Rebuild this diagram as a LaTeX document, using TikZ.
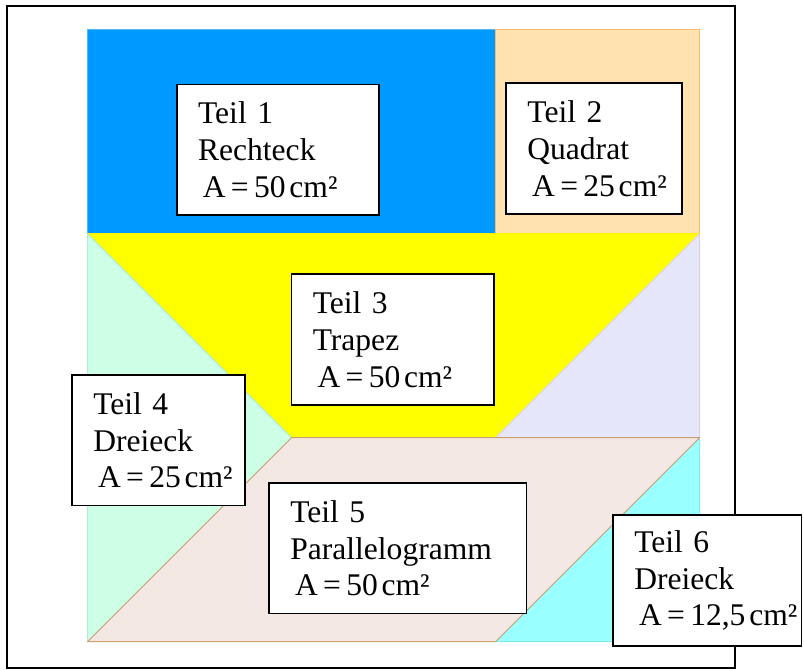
\documentclass[tikz,border=0pt]{standalone}
\usepackage{fontspec}
\setmainfont{Liberation Serif}
\usetikzlibrary{positioning}
\definecolor{blau}{HTML}{0099FF}
\definecolor{pfirsich}{HTML}{FFE2B0}
\definecolor{gelb}{HTML}{FFFF00}
\definecolor{mint}{HTML}{CCFFE6}
\definecolor{lavendel}{HTML}{E6E6FA}
\definecolor{rosa}{HTML}{F4E8E4}
\definecolor{tuerkis}{HTML}{99FFFF}
\newcommand{\flaeche}[1]{\mbox{\hspace{.15em}A\hspace{.17em}=\hspace{.17em}#1\hspace{.12em}cm²}}

\begin{document}
\begin{tikzpicture}[scale=1,
	teil/.style={draw=black, fill=white, line width=1.2pt, anchor=north west, minimum height=3.2cm, inner xsep=.52cm, font=\fontsize{22}{25.7}\selectfont},
	stueck/.style={line width=.7pt, line join=round}]
	\useasboundingbox (-2.145,-0.694) rectangle (17.56,15.728);
	\draw[line width=1.2pt] (-1.978,-0.645) rectangle (15.87,15.58);
	\draw[stueck, fill=blau, draw=blau!70!white] (0,10) rectangle (10,15);
	\draw[stueck, fill=pfirsich, draw=orange!40!pfirsich] (10,10) rectangle (15,15);
	\draw[stueck, fill=gelb, draw=gelb!90!orange] (0,10) -- (15,10) -- (10,5) -- (5,5) -- cycle;
	\draw[stueck, fill=mint, draw=mint!85!teal] (0,10) -- (5,5) -- (0,0) -- cycle;
	\draw[stueck, fill=lavendel, draw=lavendel!90!violet] (15,10) -- (10,5) -- (15,5) -- cycle;
	\draw[stueck, fill=tuerkis, draw=tuerkis!85!teal] (10,0) -- (15,5) -- (15,0) -- cycle;
	\draw[stueck, fill=rosa, draw=brown!70!rosa] (0,0) -- (5,5) -- (15,5) -- (10,0) -- cycle;
	\node[teil, text width=3.92cm] (t1) at (2.17,13.68) {Teil 1\\Rechteck\\\flaeche{50}};
	\node[teil, text width=3.27cm] (t2) at (10.24,13.71) {Teil 2\\Quadrat\\\flaeche{25}};
	\node[teil, text width=3.92cm] (t3) at (4.98,9.03) {Teil 3\\Trapez\\\flaeche{50}};
	\node[teil, text width=3.20cm] (t4) at (-0.40,6.56) {Teil 4\\Dreieck\\\flaeche{25}};
	\node[teil, text width=5.27cm] (t5) at (4.43,3.91) {Teil 5\\Parallelogramm\\\flaeche{50}};
	\node[teil, text width=3.58cm] (t6) at (12.86,3.12) {Teil 6\\Dreieck\\\flaeche{12,5}};
\end{tikzpicture}
\end{document}
